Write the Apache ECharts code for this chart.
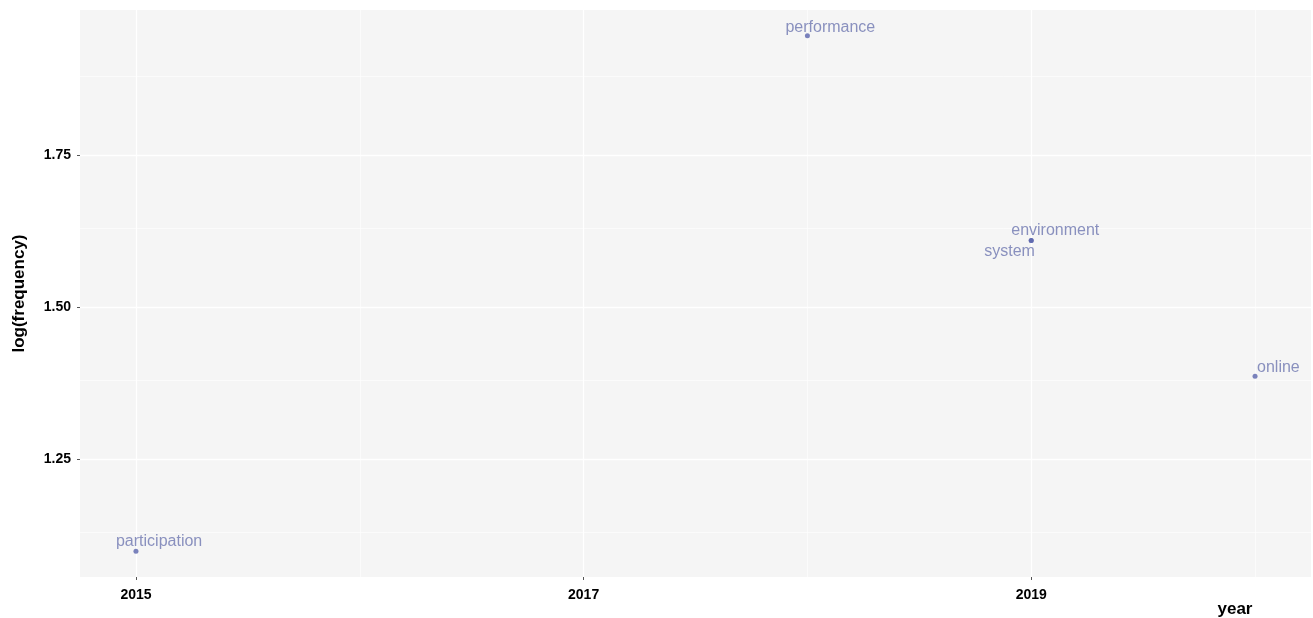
<!DOCTYPE html>
<html><head><meta charset="utf-8">
<script src="https://cdn.jsdelivr.net/npm/echarts@6/dist/echarts.min.js"></script>
<style>html,body{margin:0;padding:0;background:#fff}#c{width:1313px;height:618px}</style>
</head><body><div id="c"></div>
<script>
const terms = ['participation', 'performance', 'environment', 'system', 'online'];
const years = [2015, 2018, 2019, 2019, 2020];
const logFreq = [1.0986, 1.9459, 1.6094, 1.6094, 1.3863];
const xTicks = [2015, 2017, 2019];
const yTicks = [1.25, 1.50, 1.75];
const xMinor = [2016, 2018, 2020];
const yMinor = [1.125, 1.375, 1.625, 1.875];

const labelOffsets = {
  participation: [-20, -10],
  performance: [-22, -8],
  environment: [-20, -10],
  system: [-47, 11],
  online: [2, -9]
};

function expand(arr) {
  const lo = Math.min(...arr), hi = Math.max(...arr), p = (hi - lo) * 0.05;
  return [lo - p, hi + p];
}
const xr = expand(years), yr = expand(logFreq);

const FONT = '"Liberation Sans", Arial, sans-serif';
const chart = echarts.init(document.getElementById('c'), null, {renderer: 'canvas'});

const pts = terms.map((t, i) => ({name: t, value: [years[i], logFreq[i]]}));

chart.setOption({
  animation: false,
  grid: {left: 80, right: 2, top: 10, bottom: 41, show: true, backgroundColor: '#f5f5f5', borderWidth: 0, outerBoundsMode: 'none', containLabel: false},
  xAxis: {
    type: 'value', min: xr[0], max: xr[1],
    name: 'year', nameLocation: 'end', nameGap: -76,
    nameTextStyle: {fontFamily: FONT, fontWeight: 'bold', fontSize: 17, color: '#000', align: 'center', verticalAlign: 'top', padding: [24, 0, 0, 0]},
    axisLine: {show: false},
    axisTick: {show: true, length: 3, customValues: xTicks, lineStyle: {color: '#555', width: 1}},
    axisLabel: {customValues: xTicks, formatter: v => String(v), fontFamily: FONT, fontWeight: 'bold', fontSize: 14, color: '#000', margin: 11},
    splitLine: {show: false}
  },
  yAxis: {
    type: 'value', min: yr[0], max: yr[1],
    name: 'log(frequency)', nameLocation: 'middle', nameGap: 52, nameRotate: 90,
    nameTextStyle: {fontFamily: FONT, fontWeight: 'bold', fontSize: 17, color: '#000'},
    axisLine: {show: false},
    axisTick: {show: true, length: 3, customValues: yTicks, lineStyle: {color: '#555', width: 1}},
    axisLabel: {customValues: yTicks, formatter: v => v.toFixed(2), fontFamily: FONT, fontWeight: 'bold', fontSize: 14, color: '#000', margin: 9},
    splitLine: {show: false}
  },
  series: [
    {
      type: 'scatter', data: [], silent: true, z: 1,
      markLine: {
        silent: true, symbol: 'none', label: {show: false},
        lineStyle: {color: '#ffffff', type: 'solid', width: 0.6},
        data: xMinor.map(v => ({xAxis: v})).concat(yMinor.map(v => ({yAxis: v})))
      }
    },
    {
      type: 'scatter', data: [], silent: true, z: 1,
      markLine: {
        silent: true, symbol: 'none', label: {show: false},
        lineStyle: {color: '#ffffff', type: 'solid', width: 1.3},
        data: xTicks.map(v => ({xAxis: v})).concat(yTicks.map(v => ({yAxis: v})))
      }
    },
    {
      type: 'scatter', z: 5, data: pts, symbolSize: 5,
      itemStyle: {color: '#5a64ad'},
      label: {
        show: true, position: 'inside', align: 'left', verticalAlign: 'middle',
        formatter: p => p.name, fontFamily: FONT, fontSize: 16, color: '#6e77b0'
      },
      labelLayout: p => {
        const o = labelOffsets[terms[p.dataIndex]];
        return {dx: o[0], dy: o[1], hideOverlap: false};
      }
    }
  ]
});
</script></body></html>
